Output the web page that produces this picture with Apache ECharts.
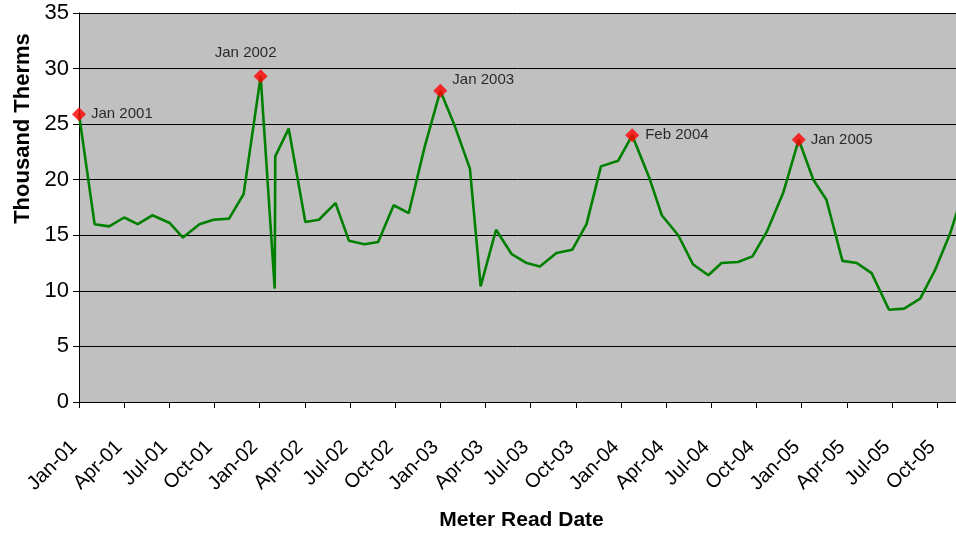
<!DOCTYPE html>
<html>
<head>
<meta charset="utf-8">
<title>Meter Read History</title>
<script src="https://cdn.jsdelivr.net/npm/echarts@6/dist/echarts.min.js"></script>
<style>
  html, body { margin: 0; padding: 0; background: #ffffff; }
  #chart { width: 956px; height: 540px; }
</style>
</head>
<body>
<div id="chart"></div>
<script>
// Meter read dates (ISO) and the gas used in each read period, thousand therms
const readDates = [
  '2001-01-01', '2001-02-02', '2001-03-01', '2001-04-01', '2001-04-28', '2001-05-28',
  '2001-07-02', '2001-07-29', '2001-09-01', '2001-09-29', '2001-10-31', '2001-11-29',
  '2002-01-03', '2002-02-01', '2002-02-02', '2002-02-27', '2002-04-02', '2002-04-29',
  '2002-06-02', '2002-06-29', '2002-07-31', '2002-08-28', '2002-09-28', '2002-10-29',
  '2002-11-30', '2003-01-01', '2003-01-31', '2003-02-28', '2003-03-22', '2003-04-22',
  '2003-05-24', '2003-06-23', '2003-07-20', '2003-08-23', '2003-09-24', '2003-10-23',
  '2003-11-21', '2003-12-26', '2004-01-24', '2004-02-27', '2004-03-23', '2004-04-25',
  '2004-05-25', '2004-06-25', '2004-07-22', '2004-08-25', '2004-09-23', '2004-10-22',
  '2004-11-24', '2004-12-26', '2005-01-25', '2005-02-19', '2005-03-23', '2005-04-21',
  '2005-05-21', '2005-06-25', '2005-07-26', '2005-08-28', '2005-09-27', '2005-10-28',
  '2005-11-25'
];
const therms = [
  25.9, 16.0, 15.8, 16.6, 16.0, 16.8,
  16.1, 14.8, 16.0, 16.4, 16.5, 18.7,
  29.3, 10.2, 22.1, 24.6, 16.2, 16.4,
  17.9, 14.5, 14.2, 14.4, 17.7, 17.0,
  23.0, 28.0, 24.8, 21.0, 10.4, 15.5,
  13.3, 12.5, 12.2, 13.4, 13.7, 16.0,
  21.2, 21.7, 24.0, 20.1, 16.8, 15.0,
  12.4, 11.4, 12.5, 12.6, 13.1, 15.3,
  18.8, 23.6, 20.0, 18.2, 12.7, 12.5,
  11.6, 8.3, 8.4, 9.3, 11.9, 15.2,
  19.2
];

// Winter peaks called out on the chart (indices into the arrays above)
const peakIndex = [0, 12, 25, 38, 49];
const peakLabels = ['Jan 2001', 'Jan 2002', 'Jan 2003', 'Feb 2004', 'Jan 2005'];

// Quarterly labels along the date axis
const tickLabels = [
  'Jan-01', 'Apr-01', 'Jul-01', 'Oct-01',
  'Jan-02', 'Apr-02', 'Jul-02', 'Oct-02',
  'Jan-03', 'Apr-03', 'Jul-03', 'Oct-03',
  'Jan-04', 'Apr-04', 'Jul-04', 'Oct-04',
  'Jan-05', 'Apr-05', 'Jul-05', 'Oct-05'
];

// ---- layout / styling ----
const FONT = 'Arial, "Liberation Sans", sans-serif';
const START_YEAR = 2001;
const MONTHS_PER_TICK = 3;
const AXIS_END = 58.25;   // months after Jan 2001 where the plot is cut off

// Where each peak label sits relative to its marker
const peakLabelPlacement = [
  { position: 'right', distance: 5, offset: [0, 0] },
  { position: 'top', distance: 9, offset: [-15, 0] },
  { position: 'right', distance: 5, offset: [0, -11] },
  { position: 'right', distance: 6, offset: [0, 0] },
  { position: 'right', distance: 5, offset: [0, 0] }
];

// Position of a date in months since 1 Jan of the start year
function monthPos(iso) {
  const [y, m, d] = iso.split('-').map(Number);
  const daysInMonth = new Date(y, m, 0).getDate();
  return (y - START_YEAR) * 12 + (m - 1) + (d - 1) / daysInMonth;
}

const linePoints = readDates.map((d, i) => [monthPos(d), therms[i]]);
const peakPoints = peakIndex.map((idx, k) => ({
  value: [monthPos(readDates[idx]), therms[idx]],
  label: Object.assign({ formatter: peakLabels[k] }, peakLabelPlacement[k])
}));
const tickPos = tickLabels.map((_, i) => i * MONTHS_PER_TICK);

const chart = echarts.init(document.getElementById('chart'), null, { renderer: 'canvas' });

chart.setOption({
  animation: false,
  backgroundColor: '#ffffff',
  textStyle: { fontFamily: FONT, color: '#000' },
  grid: {
    left: 79, right: 0, top: 13, bottom: 138,
    show: true, backgroundColor: '#C0C0C0', borderWidth: 0
  },
  xAxis: {
    type: 'value',
    min: 0,
    max: AXIS_END,
    name: 'Meter Read Date',
    nameLocation: 'middle',
    nameGap: 108,
    nameTextStyle: { fontSize: 21, fontWeight: 'bold', color: '#000', fontFamily: FONT, padding: [0, 0, 0, 8] },
    axisLine: { show: true, onZero: false, lineStyle: { color: '#000', width: 1 } },
    axisTick: { show: true, customValues: tickPos, length: 6, lineStyle: { color: '#000', width: 1 } },
    axisLabel: {
      customValues: tickPos,
      rotate: 45,
      margin: 37,
      padding: [0, 7, 0, 0],
      fontSize: 20,
      color: '#000',
      fontFamily: FONT,
      formatter: v => tickLabels[Math.round(v / MONTHS_PER_TICK)] || ''
    },
    splitLine: { show: false }
  },
  yAxis: {
    type: 'value',
    min: 0,
    max: 35,
    interval: 5,
    name: 'Thousand Therms',
    nameLocation: 'middle',
    nameGap: 38,
    nameTextStyle: { fontSize: 22, fontWeight: 'bold', color: '#000', fontFamily: FONT, padding: [0, 0, 0, 158] },
    axisLine: { show: true, lineStyle: { color: '#000', width: 1 } },
    axisTick: { show: true, length: 6, lineStyle: { color: '#000', width: 1 } },
    axisLabel: { fontSize: 22, margin: 10, color: '#000', fontFamily: FONT },
    splitLine: { show: true, lineStyle: { color: '#000', width: 1 } }
  },
  series: [
    {
      name: 'Therms',
      type: 'line',
      data: linePoints,
      symbol: 'none',
      clip: true,
      lineStyle: { color: '#008000', width: 2.6 },
      z: 2
    },
    {
      name: 'Peaks',
      type: 'scatter',
      data: peakPoints,
      symbol: 'diamond',
      symbolSize: 14,
      itemStyle: { color: '#FF0000' },
      label: { show: true, fontSize: 15, color: '#000', fontFamily: FONT },
      z: 3
    }
  ]
});
</script>
</body>
</html>
